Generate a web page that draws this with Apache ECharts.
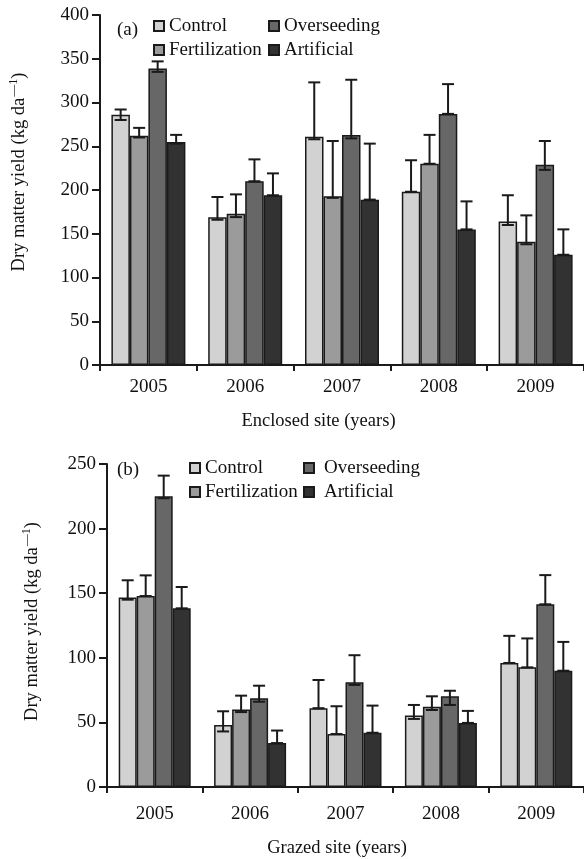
<!DOCTYPE html>
<html>
<head>
<meta charset="utf-8">
<script src="https://cdn.jsdelivr.net/npm/echarts@6/dist/echarts.min.js"></script>
<style>html,body{margin:0;padding:0;background:#fff}#c{width:584px;height:859px}</style>
</head>
<body>
<div id="c"></div>
<script>
// ---------- data ----------
const years = ['2005', '2006', '2007', '2008', '2009'];
const seriesNames = ['Control', 'Fertilization', 'Overseeding', 'Artificial'];

// (a) Enclosed site
const encControl = [286, 169, 261, 198, 164];
const encFert    = [262, 173, 193, 230, 141];
const encOver    = [339, 210, 263, 287, 229];
const encArt     = [255, 194, 189, 155, 126];
const encControlHi = [292, 192, 323, 234, 194];
const encFertHi    = [271, 195, 256, 263, 171];
const encOverHi    = [347, 235, 326, 321, 256];
const encArtHi     = [263, 219, 253, 187, 155];
const encControlLo = [280, 166, 258, 198, 160];
const encFertLo    = [260, 169, 191, 230, 138];
const encOverLo    = [335, 210, 259, 287, 223];
const encArtLo     = [253, 194, 189, 155, 126];

// (b) Grazed site
const grzControl = [146.6, 48, 61, 55.3, 96];
const grzFert    = [147.8, 60, 41, 62.2, 92.6];
const grzOver    = [225, 68.7, 81, 70.2, 141.4];
const grzArt     = [138.3, 34, 42, 49.6, 90];
const grzControlHi = [160, 58.6, 82.8, 63.5, 117];
const grzFertHi    = [163.8, 70.7, 62.5, 70.2, 115];
const grzOverHi    = [241, 78.4, 102, 74.5, 164];
const grzArtHi     = [154.8, 43.7, 63, 58.9, 112.3];
const grzControlLo = [145, 43, 61, 52.7, 96];
const grzFertLo    = [147.8, 58, 41, 59.6, 92.6];
const grzOverLo    = [223.5, 66, 79, 63.5, 141.4];
const grzArtLo     = [138.3, 34, 42, 49.6, 90];

const encTicks = [0, 50, 100, 150, 200, 250, 300, 350, 400];
const grzTicks = [0, 50, 100, 150, 200, 250];

// ---------- styles ----------
const FONT = 'Liberation Serif';
const TXT = '#111';
const colors = ['#d2d2d2', '#9b9b9b', '#676767', '#323232'];
const EDGE = '#1a1a1a';
const BW = [18.5, 18];
// items in the grazed Fertilization series drawn in the light shade (as in the original)
const grzFertLightIdx = [2, 4];

function barSeries(k, vals, g, lightIdx) {
  const data = vals.map((v, i) => (lightIdx && lightIdx.indexOf(i) >= 0)
    ? { value: v, itemStyle: { color: colors[0] } } : v);
  return {
    type: 'bar', name: seriesNames[k], data: data,
    xAxisIndex: g, yAxisIndex: g, barWidth: BW[g], barGap: '0%',
    itemStyle: { color: colors[k], borderColor: EDGE, borderWidth: 1.5 },
    emphasis: { disabled: true }, z: 2
  };
}
function errSeries(k, lo, hi, g) {
  const bw = BW[g];
  return {
    type: 'custom', name: 'err' + g + k, xAxisIndex: g, yAxisIndex: g, z: 5,
    data: lo.map((v, i) => [i, v, hi[i]]),
    encode: { x: 0, y: [1, 2] },
    silent: true,
    renderItem: function (params, api) {
      const i = api.value(0);
      const pH = api.coord([i, api.value(2)]);
      const pL = api.coord([i, api.value(1)]);
      const x = pH[0] + (k - 1.5) * bw;
      const hw = 6;
      const st = { stroke: EDGE, lineWidth: 2 };
      return {
        type: 'group', children: [
          { type: 'line', shape: { x1: x, y1: pL[1], x2: x, y2: pH[1] }, style: st },
          { type: 'line', shape: { x1: x - hw, y1: pH[1], x2: x + hw, y2: pH[1] }, style: st },
          { type: 'line', shape: { x1: x - hw, y1: pL[1], x2: x + hw, y2: pL[1] }, style: st }
        ]
      };
    }
  };
}

const axisLineStyle = { show: true, lineStyle: { color: EDGE, width: 2 } };
const labelStyle = { fontFamily: FONT, fontSize: 19, color: TXT };
const nameRich = {
  a: { fontFamily: FONT, fontSize: 18.5, color: TXT },
  s: { fontFamily: FONT, fontSize: 12, color: TXT, padding: [0, 0, 10, 1] }
};

function xAxis(g, name, gap, padRight, margin) {
  return {
    type: 'category', gridIndex: g, data: years,
    axisLine: axisLineStyle,
    axisTick: { show: true, length: 6, lineStyle: { color: EDGE, width: 2 } },
    axisLabel: Object.assign({ margin: margin }, labelStyle),
    name: name, nameLocation: 'middle', nameGap: gap,
    nameTextStyle: { fontFamily: FONT, fontSize: 18.5, color: TXT, padding: [0, padRight, 0, 0] }
  };
}
function yAxis(g, ticks, gap, padLeft) {
  return {
    type: 'value', gridIndex: g, min: ticks[0], max: ticks[ticks.length - 1],
    interval: ticks[1] - ticks[0],
    axisLine: axisLineStyle,
    axisTick: { show: true, length: 8, lineStyle: { color: EDGE, width: 2 } },
    axisLabel: Object.assign({ margin: 11 }, labelStyle),
    splitLine: { show: false },
    name: '{a|Dry matter yield (kg da}{s|—1}{a|)}',
    nameLocation: 'middle', nameGap: gap,
    nameTextStyle: { rich: nameRich, padding: [0, 0, 0, padLeft] }
  };
}
function legend(names, left, top, textPad) {
  return {
    data: names, orient: 'vertical', left: left, top: top, padding: 0,
    itemWidth: 10, itemHeight: 10, itemGap: 2, icon: 'rect',
    selectedMode: false,
    textStyle: { fontFamily: FONT, fontSize: 19, lineHeight: 22, color: TXT, padding: [0, 0, 0, textPad] }
  };
}

const series = [];
const encVals = [encControl, encFert, encOver, encArt];
const encLo = [encControlLo, encFertLo, encOverLo, encArtLo];
const encHi = [encControlHi, encFertHi, encOverHi, encArtHi];
const grzVals = [grzControl, grzFert, grzOver, grzArt];
const grzLo = [grzControlLo, grzFertLo, grzOverLo, grzArtLo];
const grzHi = [grzControlHi, grzFertHi, grzOverHi, grzArtHi];
for (let k = 0; k < 4; k++) series.push(barSeries(k, encVals[k], 0));
for (let k = 0; k < 4; k++) series.push(barSeries(k, grzVals[k], 1, k === 1 ? grzFertLightIdx : null));
for (let k = 0; k < 4; k++) series.push(errSeries(k, encLo[k], encHi[k], 0));
for (let k = 0; k < 4; k++) series.push(errSeries(k, grzLo[k], grzHi[k], 1));

const option = {
  animation: false,
  backgroundColor: '#fff',
  title: [
    { text: '(a)', left: 117, top: 21, padding: 0, textStyle: { fontFamily: FONT, fontSize: 19, fontWeight: 'normal', color: TXT } },
    { text: '(b)', left: 117, top: 461, padding: 0, textStyle: { fontFamily: FONT, fontSize: 19, fontWeight: 'normal', color: TXT } }
  ],
  legend: [
    legend(['Control', 'Fertilization'], 153, 15, 0),
    legend(['Overseeding', 'Artificial'], 268, 15, 0),
    legend(['Control', 'Fertilization'], 189, 457, 0),
    legend(['Overseeding', 'Artificial'], 303, 457, 5)
  ],
  grid: [
    { left: 100, top: 15, width: 490, height: 350 },
    { left: 107, top: 464, width: 478, height: 324 }
  ],
  xAxis: [
    xAxis(0, 'Enclosed site (years)', 47, 47, 13),
    xAxis(1, 'Grazed site (years)', 52, 17, 18)
  ],
  yAxis: [
    yAxis(0, encTicks, 70, 36),
    yAxis(1, grzTicks, 64, 8)
  ],
  series: series
};

const chart = echarts.init(document.getElementById('c'), null, { renderer: 'canvas' });
chart.setOption(option);
</script>
</body>
</html>
